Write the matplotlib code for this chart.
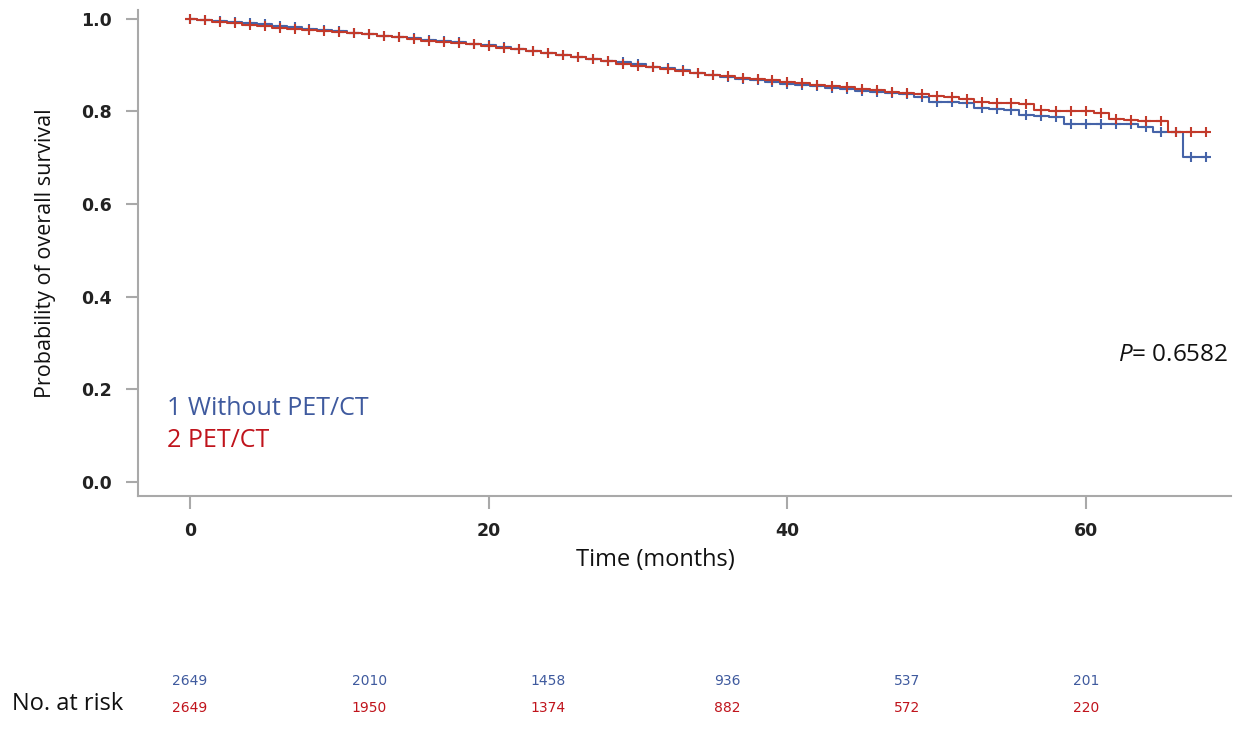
import matplotlib
matplotlib.use("Agg")
import matplotlib.pyplot as plt
import matplotlib.transforms as mtransforms
import numpy as np

# ---------------- data ----------------
# step times (months) where survival value begins
step_times = [0, 0.5, 1.5, 2.5, 3.5, 4.5, 5.5, 6.5, 7.5, 8.5, 9.5, 10.5, 11.5, 12.5,
              13.5, 14.5, 15.5, 16.5, 17.5, 18.5, 19.5, 20.5, 21.5, 22.5, 23.5, 24.5,
              25.5, 26.5, 27.5, 28.5, 29.5, 30.5, 31.5, 32.5, 33.5, 34.5, 35.5, 36.5,
              37.5, 38.5, 39.5, 40.5, 41.5, 42.5, 43.5, 44.5, 45.5, 46.5, 47.5, 48.5,
              49.5, 50.5, 51.5, 52.5, 53.5, 54.5, 55.5, 56.5, 57.5, 58.5, 59.5, 60.5,
              61.5, 62.5, 63.5, 64.5, 65.5, 66.5, 67.5]
end_time = 68.1

surv_without = [1.000, 0.998, 0.996, 0.993, 0.990, 0.988, 0.985, 0.982, 0.979, 0.976,
                0.973, 0.970, 0.967, 0.964, 0.961, 0.958, 0.955, 0.953, 0.950, 0.946,
                0.943, 0.939, 0.935, 0.931, 0.927, 0.922, 0.918, 0.914, 0.910, 0.906,
                0.902, 0.897, 0.893, 0.889, 0.884, 0.879, 0.875, 0.871, 0.867, 0.864,
                0.860, 0.857, 0.854, 0.851, 0.848, 0.845, 0.842, 0.840, 0.838, 0.832,
                0.821, 0.820, 0.818, 0.808, 0.806, 0.804, 0.792, 0.790, 0.788, 0.774,
                0.774, 0.774, 0.774, 0.774, 0.767, 0.756, 0.756, 0.701, 0.701]

surv_pet = [1.000, 0.997, 0.993, 0.990, 0.987, 0.984, 0.981, 0.979, 0.976, 0.974,
            0.972, 0.970, 0.967, 0.964, 0.961, 0.957, 0.953, 0.950, 0.947, 0.945,
            0.942, 0.938, 0.934, 0.930, 0.926, 0.922, 0.918, 0.913, 0.908, 0.903,
            0.899, 0.895, 0.891, 0.887, 0.883, 0.879, 0.876, 0.873, 0.870, 0.867,
            0.864, 0.861, 0.858, 0.855, 0.852, 0.849, 0.846, 0.843, 0.840, 0.838,
            0.834, 0.831, 0.826, 0.820, 0.819, 0.818, 0.816, 0.803, 0.802, 0.801,
            0.800, 0.797, 0.783, 0.781, 0.780, 0.779, 0.756, 0.756, 0.756]

censor_times = [0, 1, 2, 3, 4, 5, 6, 7, 8, 9, 10, 11, 12, 13, 14, 15, 16, 17, 18, 19,
                20, 21, 22, 23, 24, 25, 26, 27, 28, 29, 30, 31, 32, 33, 34, 35, 36, 37,
                38, 39, 40, 41, 42, 43, 44, 45, 46, 47, 48, 49, 50, 51, 52, 53, 54, 55,
                56, 57, 58, 59, 60, 61, 62, 63, 64, 65, 66, 67, 68]

group_labels = ["1 Without PET/CT", "2 PET/CT"]
risk_times = [0, 12, 24, 36, 48, 60]
risk_without = [2649, 2010, 1458, 936, 537, 201]
risk_pet = [2649, 1950, 1374, 882, 572, 220]
p_value_text = "0.6582"

x_ticks = [0, 20, 40, 60]
y_ticks = [0.0, 0.2, 0.4, 0.6, 0.8, 1.0]

# ---------------- style ----------------
plt.rcParams["mathtext.fontset"] = "custom"
plt.rcParams["mathtext.it"] = "Open Sans:italic"
plt.rcParams["mathtext.rm"] = "Open Sans"

blue = "#4563a8"
red = "#c23a2b"
blue_txt = "#3f5a9e"
red_txt = "#c0141c"
gray = "#a9a9a9"

fig = plt.figure(figsize=(12.44, 7.38), dpi=100)
ax = fig.add_axes([0.1109, 0.3279, 0.8787, 0.6585])


def draw_curve(times, surv, color):
    xs = list(times) + [end_time]
    ys = list(surv) + [surv[-1]]
    ax.step(xs, ys, where="post", color=color, lw=1.5, zorder=3)
    idx = np.searchsorted(np.asarray(times), np.asarray(censor_times), side="right") - 1
    cy = np.asarray(surv)[idx]
    ax.plot(censor_times, cy, linestyle="none", marker="+", markersize=7.5,
            markeredgewidth=1.5, color=color, zorder=4)


draw_curve(step_times, surv_without, blue)
draw_curve(step_times, surv_pet, red)

ax.set_xlim(-3.48, 69.7)
ax.set_ylim(-0.030, 1.019)
ax.set_xticks(x_ticks)
ax.set_yticks(y_ticks)
ax.set_yticklabels([f"{v:.1f}" for v in y_ticks])

for s in ["top", "right"]:
    ax.spines[s].set_visible(False)
for s in ["left", "bottom"]:
    ax.spines[s].set_color(gray)
    ax.spines[s].set_linewidth(1.5)

ax.tick_params(axis="both", direction="out", length=9, width=1.5, color=gray,
               labelsize=12.5, labelcolor="#222222", pad=10)
for lab in ax.get_xticklabels() + ax.get_yticklabels():
    lab.set_fontweight("bold")

ax.set_xlabel("Time (months)", fontsize=17, color="#111111",
              family="Open Sans")
ax.xaxis.set_label_coords(0.473, -0.107)
ax.set_ylabel("Probability of overall survival", fontsize=15.5, color="#111111",
              labelpad=18, family="Open Sans")

# legend-like texts
ax.text(0.027, 0.181, group_labels[0], transform=ax.transAxes, color=blue_txt,
        fontsize=18, family="Open Sans", va="center", ha="left")
ax.text(0.027, 0.115, group_labels[1], transform=ax.transAxes, color=red_txt,
        fontsize=18, family="Open Sans", va="center", ha="left")

# p-value
ax.text(0.9975, 0.29, r"$\it{P}$" + "= " + p_value_text, transform=ax.transAxes,
        fontsize=17.5, family="Open Sans", ha="right", va="center", color="#111111")

# number at risk
trans = mtransforms.blended_transform_factory(ax.transData, fig.transFigure)
for t, n in zip(risk_times, risk_without):
    ax.text(t, 1 - 681 / 738, str(n), transform=trans, color=blue_txt, fontsize=10,
            ha="center", va="center", clip_on=False)
for t, n in zip(risk_times, risk_pet):
    ax.text(t, 1 - 708 / 738, str(n), transform=trans, color=red_txt, fontsize=10,
            ha="center", va="center", clip_on=False)
fig.text(12 / 1244, 1 - 704 / 738, "No. at risk", fontsize=17, family="Open Sans",
         ha="left", va="center", color="#111111")

fig.savefig("out.png", dpi=100, facecolor="white")
